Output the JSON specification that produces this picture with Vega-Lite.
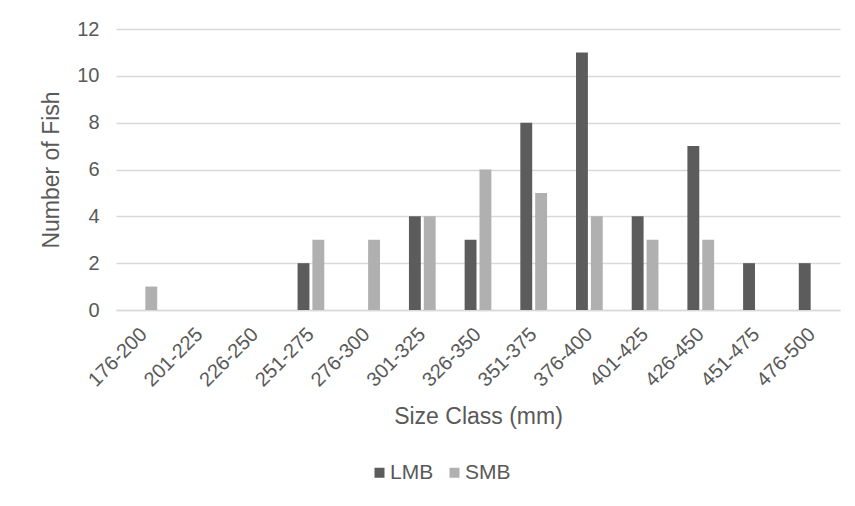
{
  "$schema": "https://vega.github.io/schema/vega-lite/v6.json",
  "autosize": {"type": "none"},
  "width": 724,
  "height": 281,
  "padding": {"left": 116, "top": 29, "right": 15, "bottom": 196},
  "background": "white",
  "data": {
    "values": [
      {"size": "176-200", "species": "LMB", "count": 0},
      {"size": "176-200", "species": "SMB", "count": 1},
      {"size": "201-225", "species": "LMB", "count": 0},
      {"size": "201-225", "species": "SMB", "count": 0},
      {"size": "226-250", "species": "LMB", "count": 0},
      {"size": "226-250", "species": "SMB", "count": 0},
      {"size": "251-275", "species": "LMB", "count": 2},
      {"size": "251-275", "species": "SMB", "count": 3},
      {"size": "276-300", "species": "LMB", "count": 0},
      {"size": "276-300", "species": "SMB", "count": 3},
      {"size": "301-325", "species": "LMB", "count": 4},
      {"size": "301-325", "species": "SMB", "count": 4},
      {"size": "326-350", "species": "LMB", "count": 3},
      {"size": "326-350", "species": "SMB", "count": 6},
      {"size": "351-375", "species": "LMB", "count": 8},
      {"size": "351-375", "species": "SMB", "count": 5},
      {"size": "376-400", "species": "LMB", "count": 11},
      {"size": "376-400", "species": "SMB", "count": 4},
      {"size": "401-425", "species": "LMB", "count": 4},
      {"size": "401-425", "species": "SMB", "count": 3},
      {"size": "426-450", "species": "LMB", "count": 7},
      {"size": "426-450", "species": "SMB", "count": 3},
      {"size": "451-475", "species": "LMB", "count": 2},
      {"size": "451-475", "species": "SMB", "count": 0},
      {"size": "476-500", "species": "LMB", "count": 2},
      {"size": "476-500", "species": "SMB", "count": 0}
    ]
  },
  "mark": {"type": "bar"},
  "encoding": {
    "x": {
      "field": "size",
      "type": "nominal",
      "sort": null,
      "scale": {"paddingInner": 0.52, "paddingOuter": 0.26},
      "axis": {
        "title": "Size Class (mm)",
        "labelAngle": -45,
        "labelAlign": "right",
        "labelBaseline": "middle",
        "labelPadding": 21,
        "ticks": false,
        "domainColor": "#d9d9d9",
        "domainWidth": 1.5,
        "titlePadding": 16
      }
    },
    "xOffset": {
      "field": "species",
      "type": "nominal",
      "scale": {"paddingInner": 0.2, "paddingOuter": 0}
    },
    "y": {
      "field": "count",
      "type": "quantitative",
      "scale": {"domain": [0, 12]},
      "axis": {
        "title": "Number of Fish",
        "values": [0, 2, 4, 6, 8, 10, 12],
        "ticks": false,
        "domain": false,
        "labelPadding": 17,
        "titlePadding": 13,
        "gridColor": "#d9d9d9",
        "gridWidth": 1.5
      }
    },
    "color": {
      "field": "species",
      "type": "nominal",
      "scale": {"domain": ["LMB", "SMB"], "range": ["#5c5c5c", "#b0b0b0"]},
      "legend": {
        "title": null,
        "orient": "none",
        "legendX": 253,
        "legendY": 433,
        "direction": "horizontal",
        "symbolType": "square",
        "symbolSize": 100,
        "symbolStrokeWidth": 0,
        "labelOffset": 0,
        "columnPadding": 10
      }
    }
  },
  "config": {
    "view": {"stroke": null},
    "font": "Liberation Sans",
    "axis": {
      "labelFont": "Liberation Sans",
      "titleFont": "Liberation Sans",
      "labelFontSize": 20,
      "titleFontSize": 23,
      "labelColor": "#595959",
      "titleColor": "#595959",
      "titleFontWeight": "normal"
    },
    "legend": {
      "labelFont": "Liberation Sans",
      "labelFontSize": 21,
      "labelColor": "#595959"
    }
  }
}
